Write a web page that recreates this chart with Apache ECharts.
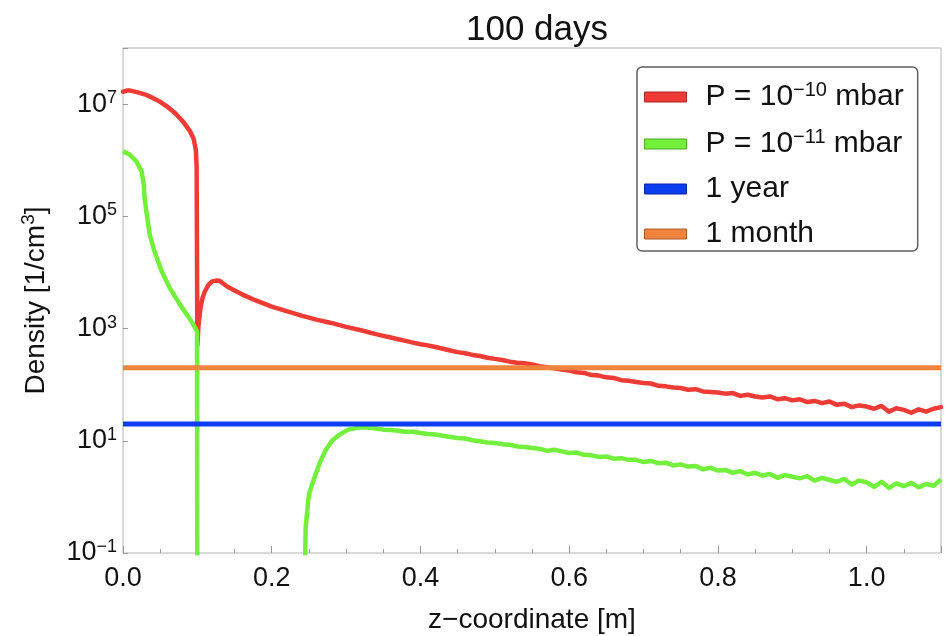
<!DOCTYPE html>
<html>
<head>
<meta charset="utf-8">
<script src="https://cdn.jsdelivr.net/npm/echarts@6/dist/echarts.min.js"></script>
<style>html,body{margin:0;padding:0;background:#fff}#c{width:948px;height:636px}</style>
</head>
<body>
<div id="c"></div>
<script>
const chartTitle = '100 days';
const xAxisName = 'z\u2212coordinate [m]';
const yAxisName = 'Density [1/cm\u00b3]';
const seriesNames = ['P = 10\u207b\u00b9\u2070 mbar', 'P = 10\u207b\u00b9\u00b9 mbar', '1 year', '1 month'];

const redZ = [0, 0.005, 0.01, 0.02, 0.03, 0.04, 0.05, 0.06, 0.07, 0.08, 0.09, 0.095, 0.098, 0.099,
  0.1, 0.1015, 0.104, 0.107, 0.11, 0.115, 0.12, 0.125, 0.13, 0.14, 0.15, 0.16, 0.175, 0.2, 0.22, 0.24,
  0.26, 0.28, 0.3, 0.32, 0.34,
  0.35, 0.36, 0.37, 0.38, 0.39, 0.40, 0.41, 0.42, 0.43, 0.44, 0.45, 0.46, 0.47, 0.48, 0.49, 0.50,
  0.51, 0.52, 0.53, 0.54, 0.55, 0.56, 0.57, 0.58, 0.59, 0.60, 0.61, 0.62, 0.63, 0.64, 0.65,
  0.66, 0.67, 0.68, 0.69, 0.70, 0.71, 0.72, 0.73, 0.74, 0.75, 0.76, 0.77, 0.78, 0.79, 0.80,
  0.81, 0.82, 0.83, 0.84, 0.85, 0.86, 0.87, 0.88, 0.89, 0.90, 0.91, 0.92, 0.93, 0.94, 0.95,
  0.96, 0.97, 0.98, 0.99, 1.00, 1.01, 1.02, 1.03, 1.04, 1.05, 1.06, 1.07, 1.08, 1.09, 1.10];
const redDensity = [1.66e7, 1.74e7, 1.74e7, 1.62e7, 1.48e7, 1.29e7, 1.10e7, 8.91e6, 6.92e6, 5.01e6, 3.31e6, 2.40e6, 1.51e6, 7.94e5,
  501, 1122, 2239, 3548, 4571, 6026, 6918, 7160, 7079, 5623, 4786, 4074, 3311, 2455, 2042, 1698,
  1445, 1259, 1072, 933, 794,
  741, 692, 646, 603, 562, 525, 501, 468, 437, 407, 380, 363, 339, 324, 302, 288,
  275, 257, 245, 240, 229, 214, 204, 195, 186, 178, 166, 162, 148, 145, 135,
  132, 120, 117, 112, 107, 105, 95.5, 93.3, 89.1, 87.1, 81.3, 83.2, 75.9, 74.1, 72.4,
  69.2, 70.8, 63.1, 66.1, 61.7, 58.9, 61.7, 55.0, 57.5, 52.5, 55.0, 49.0, 51.3, 46.8, 50.1,
  43.7, 45.7, 39.8, 42.7, 40.7, 37.2, 41.7, 33.1, 38.0, 35.5, 31.6, 36.3, 33.1, 37.2, 39.8];

const greenZ = [0, 0.009, 0.018, 0.025, 0.028, 0.029, 0.032, 0.036, 0.043, 0.052, 0.063, 0.078, 0.092, 0.0995,
  0.1, 0.17, 0.243, 0.2456, 0.25, 0.255, 0.259, 0.265, 0.272, 0.281, 0.29, 0.303, 0.315, 0.326, 0.34,
  0.35, 0.36, 0.37, 0.38, 0.39, 0.40, 0.41, 0.42, 0.43, 0.44, 0.45, 0.46, 0.47, 0.48, 0.49, 0.50,
  0.51, 0.52, 0.53, 0.54, 0.55, 0.56, 0.57, 0.58, 0.59, 0.60, 0.61, 0.62, 0.63, 0.64, 0.65,
  0.66, 0.67, 0.68, 0.69, 0.70, 0.71, 0.72, 0.73, 0.74, 0.75, 0.76, 0.77, 0.78, 0.79, 0.80,
  0.81, 0.82, 0.83, 0.84, 0.85, 0.86, 0.87, 0.88, 0.89, 0.90, 0.91, 0.92, 0.93, 0.94, 0.95,
  0.96, 0.97, 0.98, 0.99, 1.00, 1.01, 1.02, 1.03, 1.04, 1.05, 1.06, 1.07, 1.08, 1.09, 1.10];
const greenDensity = [1.45e6, 1.26e6, 9.55e5, 6.31e5, 3.63e5, 2.14e5, 1.07e5, 4.68e4, 2.24e4, 1.05e4, 5248, 2512, 1349, 891,
  0.001, null, 0.001, 0.282, 1.12, 1.78, 2.51, 4.17, 6.61, 10.0, 12.6, 15.8, 17.0, 17.4, 16.6,
  15.8, 15.5, 15.1, 14.5, 14.5, 13.8, 13.2, 12.9, 12.3, 11.7, 11.2, 11.0, 10.2, 9.77, 9.33, 9.12,
  8.71, 8.51, 7.94, 7.76, 7.41, 7.24, 6.61, 6.92, 6.46, 6.03, 6.17, 5.62, 5.50, 5.13, 5.25,
  4.79, 4.90, 4.57, 4.57, 4.17, 4.37, 3.98, 4.07, 3.63, 3.80, 3.47, 3.55, 3.09, 3.31, 2.95,
  3.02, 2.69, 2.88, 2.51, 2.69, 2.40, 2.57, 2.19, 2.45, 2.29, 2.14, 2.34, 1.95, 2.19, 2.00,
  1.86, 2.09, 1.66, 1.95, 1.82, 1.51, 1.86, 1.45, 1.74, 1.55, 1.78, 1.48, 1.70, 1.58, 2.04];

const zRange = [0, 1.1];
const densityRange = [0.1, 1e8];
const yearLevel = 20;
const monthLevel = 200;

const colors = ['#ee3b36', '#72f03c', '#0a3cf0', '#f0843c'];
const swatchBorders = ['#a02a26', '#4fa82a', '#06299f', '#a85c2a'];
const legendRichText = {};
legendRichText[seriesNames[0]] = '{g| }{t|P = 10}{s|\u221210}{t| mbar}';
legendRichText[seriesNames[1]] = '{g| }{t|P = 10}{s|\u221211}{t| mbar}';
legendRichText[seriesNames[2]] = '{g| }{t|1 year}';
legendRichText[seriesNames[3]] = '{g| }{t|1 month}';

const FONT = '"Liberation Sans", Arial, Helvetica, sans-serif';
const pairs = (xs, ys) => xs.map((x, i) => [x, ys[i]]);

const chart = echarts.init(document.getElementById('c'), null, {renderer: 'canvas'});
const lineBase = {type: 'line', showSymbol: false, symbol: 'none', clip: true, silent: true, animation: false};

chart.setOption({
  animation: false,
  backgroundColor: '#fff',
  color: colors,
  title: {
    text: chartTitle, left: 532, top: 8, textAlign: 'center',
    textStyle: {fontFamily: FONT, fontSize: 35, fontWeight: 'normal', color: '#111', lineHeight: 35}
  },
  grid: {left: 123, right: 7, top: 48, bottom: 83, show: true, borderColor: '#b4b4b4', borderWidth: 1,
    backgroundColor: 'transparent', containLabel: false, outerBoundsMode: 'none'},
  legend: {
    orient: 'vertical', left: 637, top: 67,
    padding: [13, 14, 2, 7], itemGap: 15,
    itemWidth: 42, itemHeight: 10,
    backgroundColor: '#fff', borderColor: '#606060', borderWidth: 1.5, borderRadius: 5,
    selectedMode: false,
    data: seriesNames.map((n, i) => ({name: n, icon: 'rect', itemStyle: {color: colors[i], borderColor: swatchBorders[i], borderWidth: 1}})),
    formatter: n => legendRichText[n],
    textStyle: {
      fontFamily: FONT, color: '#111',
      rich: {
        g: {width: 14, fontSize: 30, lineHeight: 34},
        t: {fontFamily: FONT, fontSize: 30, lineHeight: 34, color: '#111'},
        s: {fontFamily: FONT, fontSize: 20, lineHeight: 22, verticalAlign: 'top', color: '#111'}
      }
    }
  },
  xAxis: {
    type: 'value', min: zRange[0], max: zRange[1], interval: 0.2,
    name: xAxisName, nameLocation: 'middle', nameGap: 52,
    nameTextStyle: {fontFamily: FONT, fontSize: 28, color: '#111', lineHeight: 30},
    axisLine: {show: false},
    axisTick: {show: true, inside: true, length: 7, lineStyle: {color: '#999', width: 1}},
    minorTick: {show: true, splitNumber: 4, length: 4, lineStyle: {color: '#999', width: 1}},
    splitLine: {show: false},
    axisLabel: {
      fontFamily: FONT, fontSize: 27, lineHeight: 27, color: '#111', margin: 12,
      showMaxLabel: false,
      formatter: v => (Math.abs(v - 1.1) < 1e-9 ? '' : v.toFixed(1))
    }
  },
  yAxis: {
    type: 'log', logBase: 10, min: densityRange[0], max: densityRange[1], interval: 2,
    name: '{a|Density [1/cm}{s|3}{a|]}', nameLocation: 'middle', nameGap: 70,
    nameTextStyle: {
      fontFamily: FONT, fontSize: 28, color: '#111',
      rich: {
        a: {fontFamily: FONT, fontSize: 28, lineHeight: 34, color: '#111'},
        s: {fontFamily: FONT, fontSize: 19, lineHeight: 20, verticalAlign: 'top', color: '#111'}
      }
    },
    axisLine: {show: false},
    axisTick: {show: true, inside: true, length: 5, lineStyle: {color: '#999', width: 1}},
    splitLine: {show: false},
    axisLabel: {
      margin: 6, color: '#111',
      formatter: v => {
        const e = Math.round(Math.log10(v));
        if (e % 2 === 0) return '';
        return '{b|10}{s|' + (e < 0 ? '\u2212' + (-e) : e) + '}';
      },
      rich: {
        b: {fontFamily: FONT, fontSize: 27, lineHeight: 30, color: '#111'},
        s: {fontFamily: FONT, fontSize: 18, lineHeight: 18, verticalAlign: 'top', color: '#111'}
      }
    }
  },
  series: [
    Object.assign({}, lineBase, {name: seriesNames[0], data: pairs(redZ, redDensity), z: 2,
      lineStyle: {color: colors[0], width: 4.5, cap: 'round', join: 'round'}, itemStyle: {color: colors[0]}}),
    Object.assign({}, lineBase, {name: seriesNames[1], data: pairs(greenZ, greenDensity), z: 3, connectNulls: false,
      lineStyle: {color: colors[1], width: 4.5, cap: 'butt', join: 'round'}, itemStyle: {color: colors[1]}}),
    Object.assign({}, lineBase, {name: seriesNames[2], data: pairs(zRange, [yearLevel, yearLevel]), z: 4,
      lineStyle: {color: colors[2], width: 5}, itemStyle: {color: colors[2]}}),
    Object.assign({}, lineBase, {name: seriesNames[3], data: pairs(zRange, [monthLevel, monthLevel]), z: 5,
      lineStyle: {color: colors[3], width: 5}, itemStyle: {color: colors[3]}})
  ]
});
</script>
</body>
</html>
